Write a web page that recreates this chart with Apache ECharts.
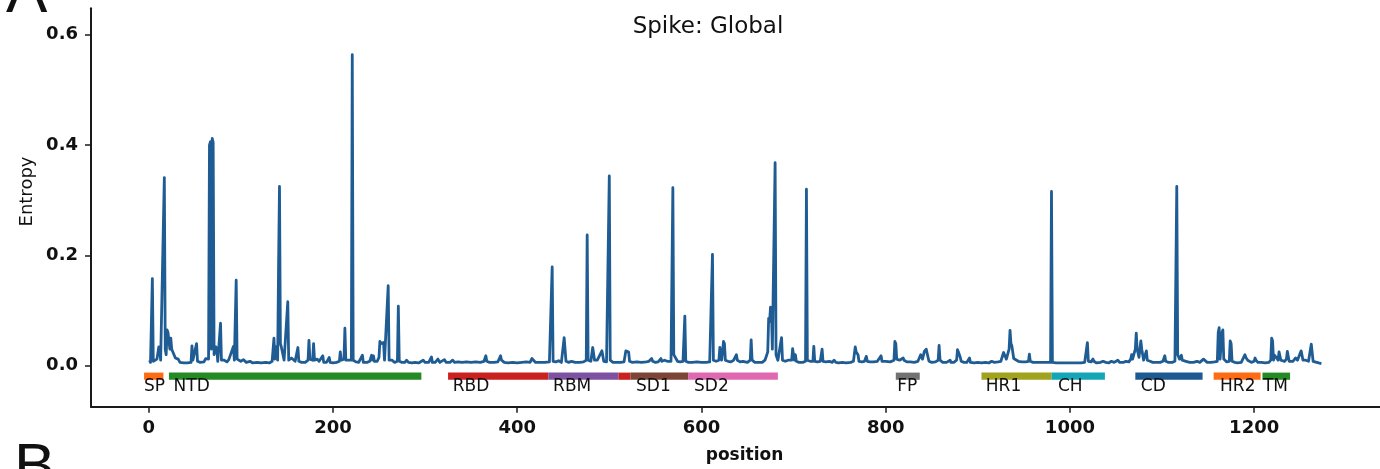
<!DOCTYPE html>
<html>
<head>
<meta charset="utf-8">
<title>Spike: Global</title>
<script src="https://cdn.jsdelivr.net/npm/echarts@6/dist/echarts.min.js"></script>
<style>
  html, body { margin: 0; padding: 0; background: #fff; }
  #chart { width: 1380px; height: 469px; }
</style>
</head>
<body>
<div id="chart"></div>
<script>
// residue position and entropy (spikes plus baseline)
const positions = [
  1, 2, 4, 5, 7, 9, 11, 12, 13, 15, 17, 18, 19, 20, 21, 23, 24, 25, 27, 29, 32, 34, 38, 42, 46, 47, 48, 50, 52, 53,
  56, 60, 62, 64, 65, 66, 67, 68, 69, 70, 71, 73, 74, 75, 77, 78, 79, 82, 85, 87, 89, 92, 93, 95, 96, 98, 100, 103, 106, 110,
  113, 118, 122, 127, 131, 134, 136, 137, 139, 140, 141, 142, 143, 144, 146, 147, 149, 151, 152, 155, 157, 159, 162, 163, 166, 168, 170, 173, 174, 175,
  178, 179, 180, 183, 185, 189, 190, 193, 196, 197, 200, 204, 207, 208, 209, 212, 213, 214, 216, 220, 221, 222, 225, 228, 232, 233, 237, 240, 242, 243,
  244, 245, 248, 250, 251, 252, 254, 255, 256, 258, 260, 261, 264, 267, 270, 271, 272, 275, 278, 280, 282, 286, 289, 293, 298, 300, 304, 307, 308, 311,
  314, 316, 318, 321, 323, 327, 330, 332, 336, 340, 345, 350, 355, 360, 364, 366, 367, 370, 375, 379, 381, 382, 383, 386, 390, 395, 400, 405, 410, 412,
  414, 416, 418, 420, 425, 430, 435, 437, 438, 439, 442, 445, 448, 451, 452, 453, 456, 459, 463, 468, 472, 475, 476, 477, 480, 482, 483, 484, 487, 489,
  492, 493, 494, 497, 499, 500, 501, 504, 508, 512, 516, 518, 520, 521, 522, 525, 530, 535, 540, 543, 546, 547, 550, 553, 556, 557, 560, 563, 565, 567,
  569, 570, 572, 574, 577, 580, 582, 583, 586, 590, 595, 600, 605, 609, 611, 612, 613, 616, 619, 620, 621, 622, 624, 625, 626, 629, 632, 635, 638, 639,
  642, 645, 646, 647, 650, 653, 654, 655, 658, 662, 666, 669, 671, 672, 673, 674, 675, 676, 677, 679, 680, 681, 683, 685, 687, 688, 691, 694, 696, 698,
  699, 700, 701, 702, 703, 706, 710, 713, 714, 715, 718, 721, 722, 723, 726, 729, 731, 732, 735, 739, 742, 744, 746, 749, 753, 757, 762, 765, 767, 768,
  770, 771, 774, 777, 779, 780, 783, 787, 791, 793, 795, 796, 800, 805, 809, 810, 811, 812, 815, 817, 819, 820, 823, 827, 831, 835, 838, 840, 842, 844,
  845, 847, 850, 854, 857, 858, 859, 862, 866, 868, 870, 871, 874, 877, 878, 879, 881, 882, 885, 888, 891, 892, 896, 900, 904, 908, 912, 915, 918, 922,
  925, 927, 928, 929, 931, 933, 934, 935, 936, 937, 938, 939, 941, 944, 948, 952, 955, 956, 957, 960, 965, 970, 975, 979, 980, 981, 985, 990, 995, 1000,
  1002, 1004, 1008, 1012, 1016, 1018, 1019, 1020, 1023, 1025, 1026, 1029, 1033, 1036, 1039, 1042, 1045, 1048, 1052, 1054, 1058, 1061, 1064, 1066, 1067, 1068, 1070, 1071, 1072, 1073,
  1075, 1076, 1077, 1078, 1080, 1082, 1083, 1084, 1087, 1090, 1094, 1098, 1101, 1103, 1104, 1107, 1111, 1114, 1116, 1117, 1119, 1121, 1122, 1126, 1130, 1134, 1138, 1141, 1143, 1145,
  1146, 1149, 1153, 1157, 1160, 1161, 1162, 1163, 1165, 1166, 1167, 1170, 1173, 1174, 1175, 1176, 1179, 1182, 1186, 1188, 1190, 1191, 1193, 1195, 1197, 1200, 1201, 1202, 1204, 1208,
  1212, 1216, 1218, 1219, 1220, 1221, 1222, 1224, 1226, 1227, 1228, 1229, 1231, 1233, 1235, 1236, 1237, 1238, 1240, 1242, 1245, 1247, 1249, 1251, 1252, 1253, 1256, 1259, 1261, 1262,
  1263, 1264, 1266, 1270, 1273
];
const entropy = [
  0.010, 0.006, 0.158, 0.008, 0.007, 0.012, 0.034, 0.030, 0.010, 0.012, 0.341, 0.030, 0.020, 0.065, 0.060, 0.030, 0.050, 0.030, 0.028, 0.014, 0.012, 0.006, 0.005, 0.005, 0.006, 0.036, 0.010, 0.008, 0.040, 0.008,
  0.006, 0.007, 0.013, 0.010, 0.012, 0.400, 0.406, 0.030, 0.412, 0.405, 0.020, 0.034, 0.030, 0.008, 0.010, 0.077, 0.010, 0.010, 0.007, 0.011, 0.008, 0.035, 0.010, 0.155, 0.012, 0.015, 0.008, 0.011, 0.006, 0.008,
  0.005, 0.006, 0.005, 0.006, 0.005, 0.008, 0.050, 0.012, 0.035, 0.010, 0.180, 0.325, 0.040, 0.034, 0.034, 0.010, 0.012, 0.116, 0.010, 0.014, 0.012, 0.008, 0.033, 0.008, 0.006, 0.008, 0.006, 0.010, 0.046, 0.012,
  0.010, 0.040, 0.010, 0.012, 0.008, 0.018, 0.006, 0.006, 0.015, 0.006, 0.005, 0.006, 0.008, 0.025, 0.010, 0.012, 0.068, 0.010, 0.008, 0.010, 0.564, 0.010, 0.007, 0.006, 0.019, 0.006, 0.006, 0.008, 0.019, 0.010,
  0.018, 0.008, 0.008, 0.015, 0.044, 0.040, 0.040, 0.042, 0.010, 0.010, 0.145, 0.010, 0.010, 0.006, 0.008, 0.108, 0.008, 0.006, 0.006, 0.010, 0.006, 0.005, 0.006, 0.005, 0.010, 0.006, 0.006, 0.016, 0.006, 0.006,
  0.012, 0.006, 0.006, 0.011, 0.006, 0.006, 0.010, 0.006, 0.007, 0.006, 0.007, 0.006, 0.007, 0.006, 0.008, 0.018, 0.008, 0.006, 0.006, 0.007, 0.010, 0.018, 0.010, 0.006, 0.005, 0.006, 0.005, 0.006, 0.007, 0.010,
  0.006, 0.013, 0.012, 0.006, 0.006, 0.006, 0.007, 0.008, 0.179, 0.008, 0.007, 0.009, 0.006, 0.051, 0.050, 0.008, 0.006, 0.008, 0.006, 0.006, 0.007, 0.010, 0.237, 0.010, 0.008, 0.033, 0.030, 0.010, 0.010, 0.008,
  0.027, 0.025, 0.008, 0.007, 0.010, 0.344, 0.010, 0.006, 0.006, 0.006, 0.007, 0.027, 0.027, 0.025, 0.008, 0.006, 0.007, 0.006, 0.007, 0.008, 0.013, 0.008, 0.006, 0.007, 0.013, 0.008, 0.010, 0.008, 0.010, 0.008,
  0.323, 0.020, 0.019, 0.008, 0.007, 0.008, 0.090, 0.008, 0.006, 0.006, 0.007, 0.006, 0.006, 0.007, 0.008, 0.202, 0.010, 0.008, 0.010, 0.033, 0.030, 0.010, 0.044, 0.040, 0.010, 0.008, 0.007, 0.010, 0.020, 0.010,
  0.007, 0.008, 0.011, 0.007, 0.006, 0.010, 0.047, 0.010, 0.006, 0.006, 0.006, 0.010, 0.020, 0.025, 0.086, 0.080, 0.106, 0.100, 0.030, 0.030, 0.368, 0.020, 0.010, 0.010, 0.051, 0.010, 0.008, 0.010, 0.012, 0.010,
  0.031, 0.020, 0.010, 0.020, 0.008, 0.006, 0.006, 0.008, 0.320, 0.010, 0.008, 0.008, 0.035, 0.008, 0.007, 0.008, 0.030, 0.008, 0.007, 0.008, 0.006, 0.010, 0.006, 0.005, 0.006, 0.005, 0.006, 0.008, 0.034, 0.025,
  0.020, 0.008, 0.007, 0.008, 0.017, 0.008, 0.007, 0.007, 0.008, 0.010, 0.018, 0.008, 0.008, 0.007, 0.010, 0.044, 0.040, 0.012, 0.010, 0.010, 0.014, 0.010, 0.007, 0.007, 0.006, 0.008, 0.020, 0.012, 0.026, 0.030,
  0.028, 0.008, 0.006, 0.007, 0.010, 0.037, 0.010, 0.006, 0.006, 0.008, 0.010, 0.006, 0.006, 0.010, 0.029, 0.025, 0.015, 0.008, 0.006, 0.006, 0.014, 0.006, 0.005, 0.006, 0.005, 0.006, 0.005, 0.008, 0.006, 0.007,
  0.008, 0.010, 0.024, 0.020, 0.012, 0.010, 0.030, 0.064, 0.040, 0.036, 0.036, 0.013, 0.010, 0.008, 0.007, 0.007, 0.008, 0.021, 0.008, 0.006, 0.006, 0.006, 0.006, 0.006, 0.316, 0.006, 0.005, 0.005, 0.005, 0.005,
  0.008, 0.005, 0.005, 0.005, 0.006, 0.008, 0.042, 0.008, 0.007, 0.012, 0.008, 0.005, 0.006, 0.008, 0.006, 0.005, 0.008, 0.006, 0.010, 0.006, 0.006, 0.008, 0.007, 0.012, 0.020, 0.012, 0.012, 0.030, 0.059, 0.030,
  0.015, 0.030, 0.045, 0.030, 0.010, 0.012, 0.027, 0.010, 0.008, 0.006, 0.006, 0.006, 0.008, 0.018, 0.008, 0.006, 0.006, 0.008, 0.325, 0.020, 0.012, 0.019, 0.010, 0.008, 0.006, 0.006, 0.008, 0.006, 0.008, 0.012,
  0.010, 0.006, 0.006, 0.007, 0.008, 0.060, 0.069, 0.012, 0.060, 0.065, 0.012, 0.007, 0.008, 0.045, 0.040, 0.008, 0.006, 0.005, 0.006, 0.008, 0.020, 0.015, 0.010, 0.012, 0.006, 0.008, 0.014, 0.010, 0.006, 0.006,
  0.005, 0.006, 0.010, 0.050, 0.045, 0.010, 0.019, 0.015, 0.010, 0.025, 0.027, 0.010, 0.012, 0.008, 0.012, 0.026, 0.025, 0.008, 0.010, 0.008, 0.014, 0.010, 0.012, 0.027, 0.025, 0.010, 0.010, 0.008, 0.010, 0.039,
  0.036, 0.008, 0.006, 0.005, 0.004
];

// spike protein domains drawn under the trace
const domainNames   = ['SP', 'NTD', 'RBD', 'RBM', '', 'SD1', 'SD2', 'FP', 'HR1', 'CH', 'CD', 'HR2', 'TM'];
const domainStart   = [-5, 22, 325, 434, 510, 523, 586, 811, 904, 980, 1071, 1156, 1209];
const domainEnd     = [16, 296, 434, 510, 523, 586, 683, 837, 980, 1038, 1144, 1207, 1239];
const domainLabelAt = [-5, 27, 330, 439, null, 529, 592, 812.6, 908.7, 987, 1077, 1163, 1209.5];
const domainColors  = ['#ff6b12', '#248a24', '#c9211f', '#7d52a3', '#c9211f', '#7c4538', '#e068b2',
                       '#727272', '#a1a21d', '#14a6b6', '#1d5a92', '#ff6b12', '#248a24'];
const domainLevel = -0.019;

const xTicks = [0, 200, 400, 600, 800, 1000, 1200];
const yTicks = [0, 0.2, 0.4, 0.6];

const lineData = positions.map((p, i) => [p, entropy[i]]);
const domainData = domainNames.map((n, i) => [domainStart[i], domainEnd[i], domainLabelAt[i], i]);

const axisColor = '#1a1a1a';
const tickFont = { color: '#111', fontSize: 18, fontWeight: 'bold', fontFamily: 'DejaVu Sans' };

const chart = echarts.init(document.getElementById('chart'), null, { renderer: 'canvas' });

const option = {
  animation: false,
  backgroundColor: '#fff',
  grid: { left: 91, right: -18, top: 8.3, bottom: 62.3 },
  xAxis: {
    type: 'value',
    min: -62.6,
    max: 1336.6,
    splitLine: { show: false },
    axisLine: { onZero: false, lineStyle: { color: axisColor, width: 2 } },
    axisTick: { customValues: xTicks, length: 6, lineStyle: { color: axisColor, width: 1.5 } },
    axisLabel: Object.assign({ customValues: xTicks, margin: 13, formatter: (v) => String(v) }, tickFont),
  },
  yAxis: {
    type: 'value',
    min: -0.0743,
    max: 0.648,
    splitLine: { show: false },
    axisLine: { show: true, onZero: false, lineStyle: { color: axisColor, width: 2 } },
    axisTick: { show: true, customValues: yTicks, length: 6, lineStyle: { color: axisColor, width: 1.5 } },
    axisLabel: Object.assign({ customValues: yTicks, margin: 13, formatter: (v) => v.toFixed(1) }, tickFont),
  },
  graphic: [
    { type: 'text', x: 708, y: 27,
      style: { text: 'Spike: Global', font: '23px "DejaVu Sans"', fill: '#111', align: 'center', verticalAlign: 'middle' } },
    { type: 'text', x: 27.5, y: 191.5, rotation: Math.PI / 2,
      style: { text: 'Entropy', font: '18px "DejaVu Sans"', fill: '#111', align: 'center', verticalAlign: 'middle' } },
    { type: 'text', x: 744.5, y: 456,
      style: { text: 'position', font: 'bold 17px "DejaVu Sans"', fill: '#111', align: 'center', verticalAlign: 'middle' } },
    { type: 'text', x: 6, y: -5,
      style: { text: 'A', font: '62px "Liberation Sans"', fill: '#111', align: 'left', verticalAlign: 'middle' } },
    { type: 'text', x: 14, y: 469,
      style: { text: 'B', font: '62px "Liberation Sans"', fill: '#111', align: 'left', verticalAlign: 'middle' } },
  ],
  series: [
    {
      name: 'Entropy',
      type: 'line',
      data: lineData,
      showSymbol: false,
      symbol: 'none',
      lineStyle: { color: '#1f5c94', width: 2.8, join: 'round' },
      z: 3,
    },
    {
      name: 'domains',
      type: 'custom',
      data: domainData,
      encode: { x: [0, 1], y: -1 },
      clip: false,
      z: 2,
      renderItem(params, api) {
        const a = api.coord([api.value(0), domainLevel]);
        const b = api.coord([api.value(1), domainLevel]);
        const idx = api.value(3);
        const children = [{
          type: 'rect',
          shape: { x: a[0], y: a[1] - 3.6, width: b[0] - a[0], height: 7.2 },
          style: { fill: domainColors[idx] },
        }];
        if (domainNames[idx]) {
          const l = api.coord([domainLabelAt[idx], domainLevel]);
          children.push({
            type: 'text',
            style: {
              text: domainNames[idx], x: l[0], y: a[1] + 10,
              font: '17px "DejaVu Sans"', fill: '#111', align: 'left', verticalAlign: 'middle',
            },
          });
        }
        return { type: 'group', children };
      },
    },
  ],
};

chart.setOption(option);
window.addEventListener('resize', () => { chart.resize(); });
</script>
</body>
</html>
